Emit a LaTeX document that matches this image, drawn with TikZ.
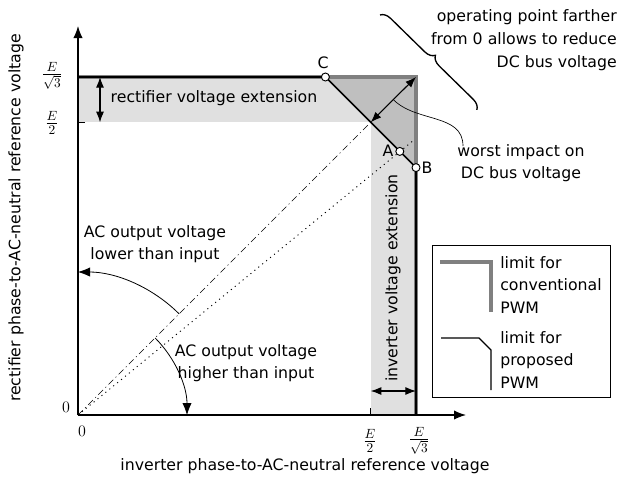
\documentclass[tikz,border=0pt]{standalone}
\usepackage[no-math]{fontspec}
\setsansfont{DejaVu Sans}
\usetikzlibrary{arrows.meta,decorations.pathreplacing,calc}
\begin{document}
\begin{tikzpicture}[x=0.75pt,y=-0.75pt,
  every node/.style={font=\sffamily\fontsize{11.8}{17}\selectfont, inner sep=0pt},
  mathfr/.style={font=\fontsize{14.5}{16}\selectfont},
  mathzero/.style={font=\fontsize{13}{15}\selectfont},
  tip/.style={-{Latex[length=9pt,width=7pt]}},
  dtip/.style={{Latex[length=8pt,width=6pt]}-{Latex[length=8pt,width=6pt]}},
  conv/.style={line width=3pt, draw=black!50},
  prop/.style={line width=1.2pt, draw=black},
  mk/.style={circle, draw=black, fill=white, line width=0.7pt, minimum size=6pt, inner sep=0pt},
  band/.style={fill=black!12},
  dark/.style={fill=black!25}
]
\useasboundingbox (0,0) rectangle (642,482);
% key points
\coordinate (O) at (78,415);
\coordinate (Ytop) at (78,26);
\coordinate (Xend) at (466,415);
\coordinate (Y3) at (78,77);
\coordinate (Y2) at (78,122.3);
\coordinate (X3) at (416,415);
\coordinate (X2) at (370.7,415);
\coordinate (K) at (416,77);
\coordinate (M) at (370.7,122.3);
\coordinate (Cp) at (325.4,77);
\coordinate (Bp) at (416,167.6);
\coordinate (Ap) at (399.8,151.4);
\coordinate (Dend) at (414,140);
% bands
\fill[band] (Y2) rectangle (K);
\fill[band] (X2) rectangle (K);
\fill[dark] (Cp) -- (K) -- (Bp) -- cycle;
% reference lines
\draw[line width=0.5pt, dash pattern=on 5pt off 2.5pt on 0.8pt off 2.5pt] (O) -- (M);
\draw[line width=0.7pt, dash pattern=on 0.8pt off 3pt] (O) -- (Dend);
% limits
\draw[conv] (Y3) -- (K) -- (X3);
\draw[prop] (Y3) -- (Cp) -- (Bp) -- (X3);
% axes
\draw[line width=0.9pt, tip] (O) -- (Ytop);
\draw[line width=0.9pt, tip] (O) -- (Xend);
\draw[line width=0.6pt] (Y2) -- ++(7,0);
\draw[line width=0.6pt] (X2) -- ++(0,-7);
% band arrows
\coordinate (ra1) at (100,77);
\coordinate (ra2) at (100,122.3);
\coordinate (ia1) at (370.7,391);
\coordinate (ia2) at (416,391);
\draw[dtip, line width=0.8pt] (ra1) -- (ra2);
\draw[dtip, line width=0.8pt] (ia1) -- (ia2);
\draw[dtip, line width=0.8pt] (M) -- (K);
% worst impact connector
\coordinate (mid) at ($(M)!0.5!(K)$);
\coordinate (wend) at (463,146);
\draw[line width=0.5pt] (mid) to[out=-45,in=90] (wend);
% brace
\coordinate (br1) at (380,15);
\coordinate (br2) at (477,110);
\draw[line width=1pt, decorate, decoration={brace, amplitude=7.5pt}] (br1) -- (br2);
% arcs
\begin{scope}[shift={(O)}, x=0.75pt, y=0.75pt]
  \draw[tip, line width=0.6pt] (45:143) arc[start angle=45, end angle=90, radius=143];
  \draw[tip, line width=0.6pt] (45:109) arc[start angle=45, end angle=0, radius=109];
\end{scope}
% markers
\node[mk] (C) at (Cp) {};
\node[mk] (A) at (Ap) {};
\node[mk] (B) at (Bp) {};
\node (Cl) at (323,63) {C};
\node (Al) at (388,151) {A};
\node (Bl) at (427,168) {B};
% axis value labels
\node[mathfr] (yl3) at (52,76) {$\frac{E}{\sqrt{3}}$};
\node[mathfr] (yl2) at (52,123) {$\frac{E}{2}$};
\node[mathzero] (yl0) at (66,407) {$0$};
\node[mathzero] (xl0) at (82,431) {$0$};
\node[mathfr] (xl2) at (370,441) {$\frac{E}{2}$};
\node[mathfr] (xl3) at (419,441) {$\frac{E}{\sqrt{3}}$};
% axis titles
\node[rotate=90] (ylab) at (16,218) {rectifier phase-to-AC-neutral reference voltage};
\node (xlab) at (305,466) {inverter phase-to-AC-neutral reference voltage};
% annotations
\node (rect) at (214,98) {rectifier voltage extension};
\node[rotate=90] (inv) at (393,278) {inverter voltage extension};
\node[align=center] (low) at (155,244) {AC output voltage\\lower than input};
\node[align=center] (high) at (246,363) {AC output voltage\\higher than input};
\node[align=center] (worst) at (521,163) {worst impact on\\DC bus voltage};
\node[align=right, anchor=east] (op) at (617,40) {operating point farther\\from 0 allows to reduce\\DC bus voltage};
% legend
\coordinate (lg0) at (432,245);
\coordinate (lg9) at (610,397);
\draw[line width=0.6pt] (lg0) rectangle (lg9);
\coordinate (g1) at (440,262);
\coordinate (g2) at (491,262);
\coordinate (g3) at (491,312);
\draw[conv] (g1) -- (g2) -- (g3);
\coordinate (p1) at (441,338);
\coordinate (p2) at (479,338);
\coordinate (p3) at (491,350);
\coordinate (p4) at (491,390);
\draw[line width=0.8pt] (p1) -- (p2) -- (p3) -- (p4);
\node[anchor=west, align=left] (lg1) at (500,285) {limit for\\conventional\\PWM};
\node[anchor=west, align=left] (lg2) at (500,360) {limit for\\proposed\\PWM};
\end{tikzpicture}
\end{document}
